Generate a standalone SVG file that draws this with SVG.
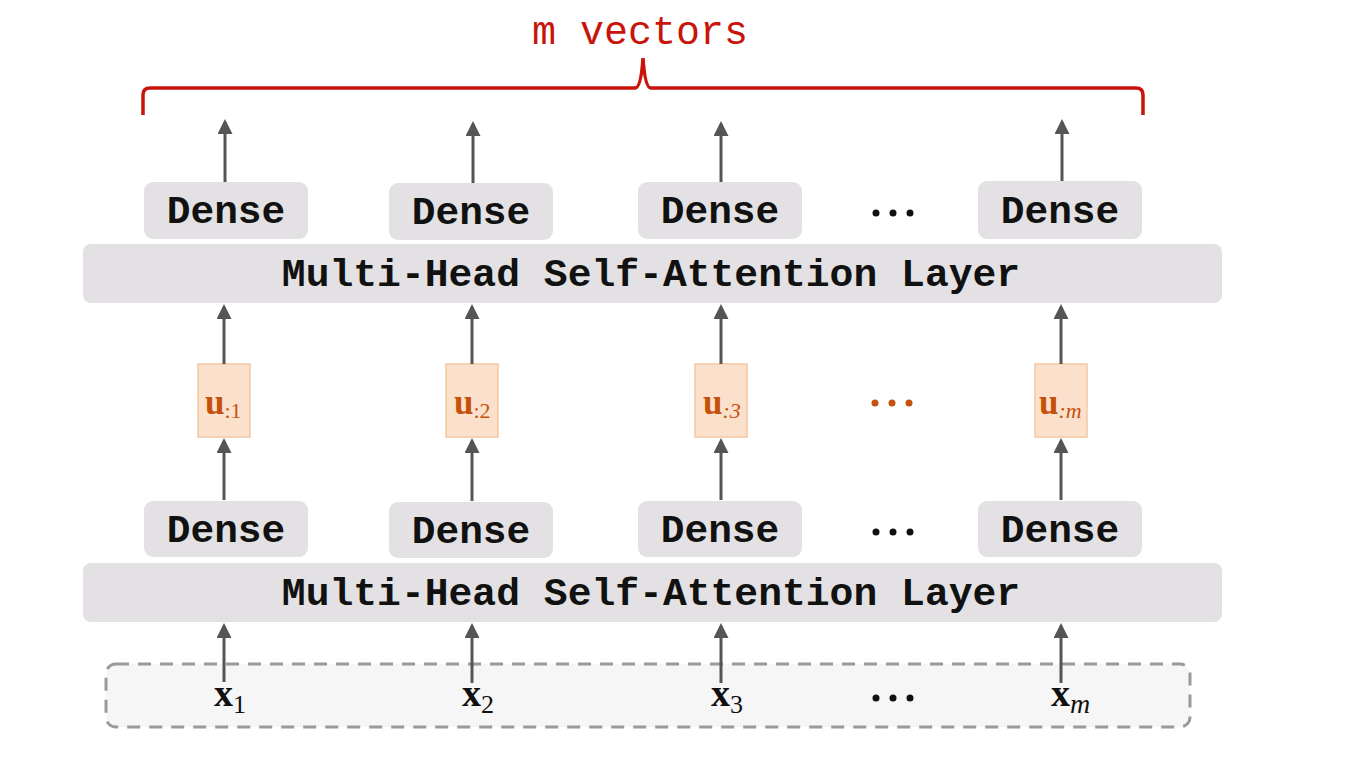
<svg xmlns="http://www.w3.org/2000/svg" width="1366" height="768" viewBox="0 0 1366 768">
<defs>
<marker id="ah" markerWidth="5" markerHeight="5" refX="4" refY="2.5" orient="auto" markerUnits="strokeWidth">
<path d="M0,0 L5,2.5 L0,5 Z" fill="#555"/>
</marker>
<style>
.dense{fill:#e3e1e3}
.mono{font-family:"Liberation Mono","Courier New",monospace;font-weight:bold;fill:#111}
.dt{font-size:39.5px;text-anchor:middle}
.mt{font-size:39.7px;text-anchor:middle}
.ubox{fill:#fbe0cc;stroke:#f4c7a3;stroke-width:1.5}
.ut{font-family:"Liberation Serif","DejaVu Serif",serif;fill:#c4520c}
.xt{font-family:"Liberation Serif","DejaVu Serif",serif;fill:#111}
.arr{stroke:#555;stroke-width:3;fill:none;marker-end:url(#ah)}
.bd{fill:#111}
.od{fill:#c4520c}
</style>
</defs>
<rect width="1366" height="768" fill="#ffffff"/>

<g id="brace">
<path d="M143,115 L143,95 Q143,88 150,88 L635,88 Q641,88 643,58 Q645,88 651,88 L1136,88 Q1143,88 1143,95 L1143,115" fill="none" stroke="#c8140a" stroke-width="3.5"/>
<text x="640" y="44" font-family="Liberation Mono, monospace" font-size="40" fill="#c8140a" text-anchor="middle">m vectors</text>
</g>

<g id="inputs">
<rect x="106" y="664" width="1084" height="63" rx="10" fill="#f7f6f7" stroke="#9a9a9a" stroke-width="3" stroke-dasharray="13 9"/>
<text class="xt" x="214" y="706" font-size="38" font-weight="bold">x<tspan font-size="26" font-weight="normal" dy="7">1</tspan></text>
<text class="xt" x="462" y="706" font-size="38" font-weight="bold">x<tspan font-size="26" font-weight="normal" dy="7">2</tspan></text>
<text class="xt" x="711" y="706" font-size="38" font-weight="bold">x<tspan font-size="26" font-weight="normal" dy="7">3</tspan></text>
<text class="xt" x="1051" y="706" font-size="38" font-weight="bold">x<tspan font-size="28" font-style="italic" font-weight="normal" dy="7">m</tspan></text>
<circle class="bd" cx="876" cy="698" r="3.5"/><circle class="bd" cx="893" cy="698" r="3.5"/><circle class="bd" cx="910" cy="698" r="3.5"/>
</g>

<g id="mhsa1">
<rect class="dense" x="83" y="563" width="1139" height="59" rx="8"/>
<text class="mono mt" x="651" y="605">Multi-Head Self-Attention Layer</text>
</g>

<g id="dense-bottom">
<rect class="dense" x="144" y="501" width="164" height="56" rx="9"/>
<text class="mono dt" x="226" y="542">Dense</text>
<rect class="dense" x="389" y="502" width="164" height="56" rx="9"/>
<text class="mono dt" x="471" y="543">Dense</text>
<rect class="dense" x="638" y="501" width="164" height="56" rx="9"/>
<text class="mono dt" x="720" y="542">Dense</text>
<rect class="dense" x="978" y="501" width="164" height="56" rx="9"/>
<text class="mono dt" x="1060" y="542">Dense</text>
<circle class="bd" cx="876" cy="532" r="3.5"/><circle class="bd" cx="893" cy="532" r="3.5"/><circle class="bd" cx="910" cy="532" r="3.5"/>
</g>

<g id="u-vectors">
<rect class="ubox" x="198" y="364" width="52" height="73"/>
<text class="ut" x="205" y="414" font-size="35" font-weight="bold">u<tspan font-size="22" font-weight="normal" dy="4">:1</tspan></text>
<rect class="ubox" x="446" y="364" width="52" height="73"/>
<text class="ut" x="454" y="414" font-size="35" font-weight="bold">u<tspan font-size="22" font-weight="normal" dy="4">:2</tspan></text>
<rect class="ubox" x="695" y="364" width="52" height="73"/>
<text class="ut" x="703" y="414" font-size="35" font-weight="bold">u<tspan font-size="22" font-style="italic" font-weight="normal" dy="4">:3</tspan></text>
<rect class="ubox" x="1035" y="364" width="52" height="73"/>
<text class="ut" x="1039" y="414" font-size="35" font-weight="bold">u<tspan font-size="22" font-style="italic" font-weight="normal" dy="4">:m</tspan></text>
<circle class="od" cx="875" cy="403" r="3.5"/><circle class="od" cx="892" cy="403" r="3.5"/><circle class="od" cx="909" cy="403" r="3.5"/>
</g>

<g id="mhsa2">
<rect class="dense" x="83" y="244" width="1139" height="59" rx="8"/>
<text class="mono mt" x="651" y="286">Multi-Head Self-Attention Layer</text>
</g>

<g id="dense-top">
<rect class="dense" x="144" y="182" width="164" height="57" rx="9"/>
<text class="mono dt" x="226" y="223">Dense</text>
<rect class="dense" x="389" y="183" width="164" height="57" rx="9"/>
<text class="mono dt" x="471" y="224">Dense</text>
<rect class="dense" x="638" y="182" width="164" height="57" rx="9"/>
<text class="mono dt" x="720" y="223">Dense</text>
<rect class="dense" x="978" y="181" width="164" height="58" rx="9"/>
<text class="mono dt" x="1060" y="223">Dense</text>
<circle class="bd" cx="876" cy="213" r="3.5"/><circle class="bd" cx="893" cy="213" r="3.5"/><circle class="bd" cx="910" cy="213" r="3.5"/>
</g>

<g id="connectors">
<line class="arr" x1="224" y1="682" x2="224" y2="626"/>
<line class="arr" x1="472" y1="683" x2="472" y2="626"/>
<line class="arr" x1="721" y1="683" x2="721" y2="626"/>
<line class="arr" x1="1061" y1="683" x2="1061" y2="626"/>

<line class="arr" x1="224" y1="500" x2="224" y2="441"/>
<line class="arr" x1="472" y1="501" x2="472" y2="441"/>
<line class="arr" x1="721" y1="500" x2="721" y2="441"/>
<line class="arr" x1="1061" y1="500" x2="1061" y2="441"/>

<line class="arr" x1="224" y1="364" x2="224" y2="307"/>
<line class="arr" x1="472" y1="364" x2="472" y2="307"/>
<line class="arr" x1="721" y1="364" x2="721" y2="307"/>
<line class="arr" x1="1061" y1="364" x2="1061" y2="307"/>

<line class="arr" x1="225" y1="182" x2="225" y2="122"/>
<line class="arr" x1="473" y1="183" x2="473" y2="124"/>
<line class="arr" x1="721" y1="182" x2="721" y2="124"/>
<line class="arr" x1="1062" y1="181" x2="1062" y2="122"/>
</g>
</svg>
